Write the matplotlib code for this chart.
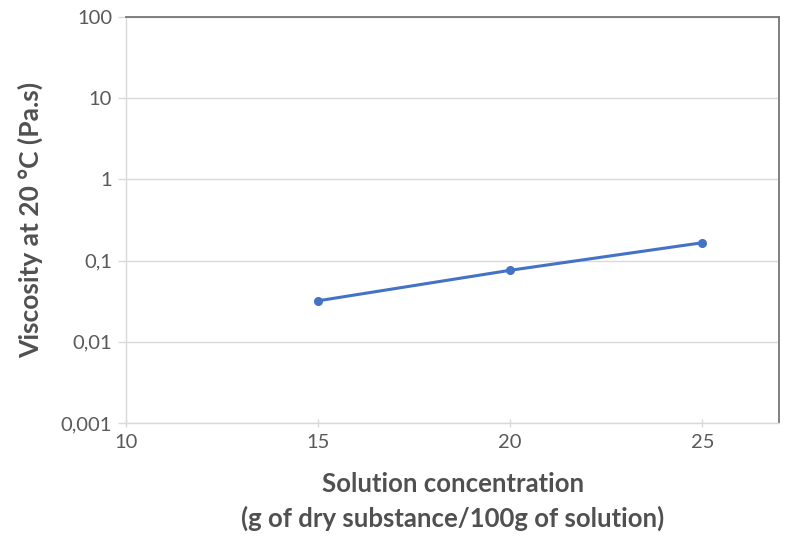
import matplotlib
matplotlib.use("Agg")
import matplotlib.pyplot as plt
from matplotlib.ticker import FixedLocator, FixedFormatter, NullLocator

plt.rcParams['font.family'] = ['Lato', 'DejaVu Sans']

# data
concentration = [15, 20, 25]
viscosity = [0.032, 0.076, 0.166]

y_ticks = [0.001, 0.01, 0.1, 1, 10, 100]
y_labels = ["0,001", "0,01", "0,1", "1", "10", "100"]
x_ticks = [10, 15, 20, 25]

fig = plt.figure(figsize=(8, 5.44), dpi=100)
ax = fig.add_axes([0.1575, 0.2224, 0.8165, 0.7464])

ax.plot(concentration, viscosity, color="#4472c4", lw=2.2, marker="o", ms=5.5)

ax.set_yscale("log")
ax.set_ylim(0.001, 100)
ax.set_xlim(10, 27)
ax.yaxis.set_major_locator(FixedLocator(y_ticks))
ax.yaxis.set_major_formatter(FixedFormatter(y_labels))
ax.yaxis.set_minor_locator(NullLocator())
ax.set_xticks(x_ticks)
ax.set_xticklabels([str(v) for v in x_ticks])

ax.grid(axis="y", color="#d9d9d9", lw=1)
ax.set_axisbelow(True)

for side in ["left", "bottom"]:
    ax.spines[side].set_color("#d9d9d9")
    ax.spines[side].set_linewidth(1)
for side in ["top", "right"]:
    ax.spines[side].set_color("#767676")
    ax.spines[side].set_linewidth(1.3)

ax.tick_params(axis="y", length=6, width=1, color="#d9d9d9", labelsize=14.5, labelcolor="#595959", pad=4)
ax.tick_params(axis="x", length=6, width=1, color="#d9d9d9", labelsize=14.5, labelcolor="#595959",
               direction="inout", pad=5)

ax.set_xlabel("Solution concentration\n(g of dry substance/100g of solution)",
              fontsize=18.5, fontweight="bold", color="#505050", labelpad=15, linespacing=1.45)
ax.set_ylabel("Viscosity at 20 °C (Pa.s)", fontsize=19, fontweight="bold", color="#505050", labelpad=13)

fig.savefig("out.png", dpi=100)
